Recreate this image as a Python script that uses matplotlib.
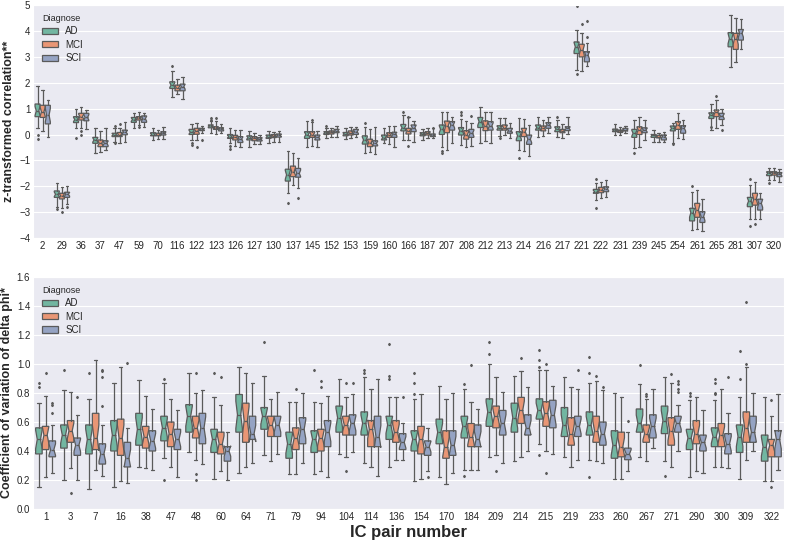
import numpy as np
import matplotlib.pyplot as plt
import seaborn as sns
from matplotlib.patches import Patch

groups = ["AD", "MCI", "SCI"]
group_n = [19, 19, 19]  # approx. subjects per group (sets notch width)

# ---- upper panel: z-transformed correlation ----
top_pairs = [2, 29, 36, 37, 47, 59, 70, 116, 122, 123, 126, 127, 130, 137, 145, 152,
             153, 159, 160, 166, 187, 207, 208, 212, 213, 214, 216, 217, 221, 222, 231,
             239, 245, 254, 261, 265, 281, 307, 320]

# each row: whisker low, q1, median, q3, whisker high
top_ad = [
    [0.24, 0.69, 0.91, 1.18, 1.89], [-2.79, -2.43, -2.31, -2.18, -1.89], [0.24, 0.46, 0.58, 0.69, 0.97],
    [-0.73, -0.34, -0.21, -0.11, 0.24], [-0.27, -0.08, 0.0, 0.05, 0.24], [0.24, 0.47, 0.58, 0.66, 0.82],
    [-0.21, -0.05, 0.0, 0.07, 0.24], [1.46, 1.78, 1.91, 2.04, 2.45], [-0.21, 0.0, 0.09, 0.2, 0.4],
    [0.05, 0.26, 0.33, 0.37, 0.53], [-0.34, -0.15, -0.08, 0.0, 0.27], [-0.47, -0.21, -0.12, -0.05, 0.15],
    [-0.34, -0.15, -0.08, -0.02, 0.15], [-2.25, -1.8, -1.56, -1.34, -0.62], [-0.47, -0.15, 0.0, 0.11, 0.52],
    [-0.15, 0.0, 0.07, 0.11, 0.24], [-0.18, -0.05, 0.02, 0.08, 0.27], [-0.73, -0.37, -0.21, -0.05, 0.3],
    [-0.34, -0.21, -0.12, -0.02, 0.27], [-0.21, 0.14, 0.26, 0.39, 0.75], [-0.21, -0.05, 0.02, 0.07, 0.2],
    [-0.47, 0.0, 0.2, 0.37, 0.86], [-0.4, -0.02, 0.14, 0.27, 0.6], [-0.31, 0.27, 0.5, 0.66, 1.05],
    [-0.05, 0.17, 0.26, 0.34, 0.62], [-0.6, -0.24, -0.05, 0.11, 0.62], [-0.11, 0.17, 0.27, 0.37, 0.66],
    [-0.08, 0.11, 0.21, 0.3, 0.58], [2.49, 3.13, 3.39, 3.58, 4.03], [-2.53, -2.27, -2.21, -2.12, -1.86],
    [-0.02, 0.11, 0.17, 0.21, 0.39], [-0.53, -0.11, 0.05, 0.2, 0.56], [-0.27, -0.11, -0.03, 0.0, 0.17],
    [-0.31, 0.14, 0.24, 0.33, 0.46], [-3.69, -3.34, -3.02, -2.85, -2.21], [0.17, 0.62, 0.75, 0.84, 1.18],
    [2.62, 3.39, 3.71, 3.94, 4.61], [-3.28, -2.79, -2.57, -2.43, -1.95], [-1.76, -1.59, -1.5, -1.44, -1.28],
]
top_mci = [
    [0.14, 0.66, 0.88, 1.13, 1.72], [-2.85, -2.49, -2.37, -2.27, -2.04], [0.24, 0.56, 0.69, 0.82, 1.05],
    [-0.69, -0.47, -0.34, -0.21, 0.14], [-0.34, -0.08, 0.0, 0.08, 0.24], [0.37, 0.56, 0.64, 0.69, 0.86],
    [-0.18, -0.05, 0.0, 0.05, 0.17], [1.55, 1.69, 1.81, 1.91, 2.16], [-0.21, 0.01, 0.14, 0.24, 0.43],
    [0.02, 0.2, 0.26, 0.3, 0.52], [-0.43, -0.21, -0.11, -0.03, 0.17], [-0.38, -0.24, -0.15, -0.08, 0.05],
    [-0.27, -0.12, -0.05, 0.0, 0.11], [-1.95, -1.63, -1.43, -1.22, -0.73], [-0.43, -0.11, 0.0, 0.11, 0.5],
    [-0.11, 0.02, 0.08, 0.14, 0.27], [-0.15, -0.02, 0.05, 0.14, 0.3], [-0.66, -0.47, -0.31, -0.18, 0.2],
    [-0.37, -0.11, -0.02, 0.07, 0.33], [-0.21, 0.02, 0.14, 0.24, 0.69], [-0.15, -0.02, 0.05, 0.11, 0.27],
    [-0.6, 0.07, 0.33, 0.52, 0.86], [-0.47, -0.18, 0.0, 0.15, 0.52], [-0.24, 0.15, 0.33, 0.53, 0.86],
    [-0.02, 0.17, 0.27, 0.37, 0.65], [-0.62, -0.08, 0.11, 0.24, 0.6], [-0.05, 0.14, 0.24, 0.33, 0.58],
    [-0.15, 0.07, 0.14, 0.2, 0.4], [2.45, 3.0, 3.26, 3.49, 3.94], [-2.46, -2.25, -2.14, -2.04, -1.82],
    [-0.02, 0.08, 0.14, 0.17, 0.3], [-0.47, 0.0, 0.17, 0.3, 0.66], [-0.27, -0.13, -0.08, -0.03, 0.05],
    [-0.15, 0.2, 0.37, 0.5, 0.82], [-3.66, -3.2, -2.92, -2.66, -2.14], [0.24, 0.69, 0.86, 0.95, 1.33],
    [2.79, 3.29, 3.71, 3.91, 4.49], [-3.28, -2.73, -2.5, -2.27, -1.82], [-1.76, -1.57, -1.49, -1.44, -1.28],
]
top_sci = [
    [-0.08, 0.41, 0.75, 1.13, 1.33], [-2.68, -2.43, -2.31, -2.23, -1.99], [0.2, 0.53, 0.66, 0.82, 0.95],
    [-0.6, -0.47, -0.34, -0.24, 0.24], [-0.27, -0.01, 0.09, 0.17, 0.5], [0.3, 0.47, 0.61, 0.72, 0.82],
    [-0.18, -0.02, 0.05, 0.11, 0.3], [1.36, 1.69, 1.85, 1.95, 2.21], [0.05, 0.15, 0.2, 0.24, 0.33],
    [0.05, 0.14, 0.22, 0.26, 0.4], [-0.47, -0.31, -0.18, -0.08, 0.17], [-0.38, -0.25, -0.18, -0.12, -0.02],
    [-0.27, -0.1, -0.03, 0.02, 0.15], [-2.05, -1.65, -1.5, -1.31, -0.9], [-0.47, -0.21, -0.11, -0.02, 0.15],
    [-0.08, 0.07, 0.15, 0.2, 0.34], [-0.11, 0.0, 0.11, 0.2, 0.3], [-0.75, -0.44, -0.34, -0.24, 0.3],
    [-0.47, -0.11, 0.02, 0.09, 0.33], [-0.27, 0.11, 0.26, 0.37, 0.52], [-0.15, -0.08, -0.02, 0.02, 0.24],
    [-0.31, 0.17, 0.37, 0.5, 0.69], [-0.43, -0.11, 0.05, 0.2, 0.46], [-0.31, 0.17, 0.33, 0.5, 0.86],
    [-0.12, 0.05, 0.15, 0.24, 0.46], [-0.83, -0.38, -0.18, -0.02, 0.37], [0.07, 0.24, 0.37, 0.46, 0.69],
    [0.02, 0.15, 0.24, 0.3, 0.66], [2.64, 2.81, 3.07, 3.2, 3.55], [-2.43, -2.21, -2.1, -2.02, -1.76],
    [0.05, 0.14, 0.17, 0.24, 0.33], [-0.21, 0.07, 0.17, 0.26, 0.58], [-0.27, -0.21, -0.08, -0.02, 0.11],
    [-0.18, 0.05, 0.24, 0.34, 0.56], [-3.72, -3.4, -3.17, -2.98, -2.5], [0.37, 0.58, 0.71, 0.82, 0.97],
    [3.29, 3.65, 3.91, 4.06, 4.46], [-3.28, -2.92, -2.66, -2.5, -2.25], [-1.82, -1.63, -1.54, -1.47, -1.34],
]
top_fliers = {
    "AD": {2: [-0.02, -0.17], 29: [-2.89], 36: [-0.12], 47: [0.33, -0.34], 116: [2.64], 122: [-0.31, -0.4],
           123: [0.62, 0.58], 126: [-0.44, -0.56], 137: [-2.63], 152: [0.33], 159: [0.46], 166: [0.88],
           207: [-0.62, -0.73], 208: [0.86, 0.75], 213: [-0.13], 214: [-0.9], 217: [0.66],
           221: [4.96, 2.34], 222: [-1.73, -2.85], 239: [-0.73], 254: [-0.35], 261: [-1.98],
           265: [0.3], 307: [-1.73, -3.52], 320: [-1.89]},
    "MCI": {29: [-2.98], 36: [0.14, 0.0], 47: [0.4], 59: [0.3], 122: [-0.47], 123: [0.62], 145: [0.58],
            166: [-0.43, 0.66], 221: [4.27], 265: [1.5], 307: [-3.47]},
    "SCI": {29: [-2.79], 122: [-0.21], 137: [-2.44], 187: [0.27], 208: [0.72], 221: [4.38, 3.78],
            265: [0.17]},
}

# ---- lower panel: coefficient of variation of delta phi ----
bot_pairs = [1, 3, 7, 16, 38, 47, 48, 60, 64, 71, 79, 94, 104, 114, 136, 154, 170, 184,
             209, 214, 215, 219, 233, 260, 267, 271, 290, 300, 309, 322]
bot_ad = [
    [0.15, 0.38, 0.48, 0.56, 0.73], [0.2, 0.42, 0.51, 0.58, 0.82], [0.14, 0.38, 0.48, 0.58, 0.76],
    [0.15, 0.4, 0.51, 0.61, 0.87], [0.29, 0.44, 0.55, 0.66, 0.89], [0.35, 0.47, 0.56, 0.64, 0.87],
    [0.39, 0.53, 0.64, 0.72, 0.94], [0.21, 0.39, 0.48, 0.55, 0.77], [0.25, 0.53, 0.65, 0.79, 0.98],
    [0.37, 0.55, 0.64, 0.7, 0.92], [0.24, 0.35, 0.45, 0.53, 0.74], [0.24, 0.39, 0.48, 0.54, 0.74],
    [0.38, 0.53, 0.63, 0.71, 0.9], [0.32, 0.51, 0.59, 0.67, 0.91], [0.29, 0.48, 0.58, 0.64, 0.77],
    [0.19, 0.4, 0.48, 0.54, 0.76], [0.22, 0.45, 0.53, 0.62, 0.85], [0.27, 0.49, 0.57, 0.64, 0.83],
    [0.36, 0.57, 0.67, 0.76, 1.0], [0.33, 0.53, 0.63, 0.73, 0.92], [0.45, 0.62, 0.68, 0.76, 0.96],
    [0.36, 0.5, 0.58, 0.7, 0.91], [0.34, 0.51, 0.58, 0.67, 0.87], [0.21, 0.35, 0.44, 0.54, 0.8],
    [0.36, 0.53, 0.59, 0.69, 0.86], [0.33, 0.52, 0.61, 0.71, 0.91], [0.22, 0.41, 0.49, 0.55, 0.75],
    [0.29, 0.43, 0.5, 0.56, 0.75], [0.21, 0.39, 0.5, 0.58, 0.77], [0.19, 0.33, 0.43, 0.51, 0.77],
]
bot_mci = [
    [0.22, 0.41, 0.51, 0.57, 0.78], [0.28, 0.46, 0.54, 0.61, 0.81], [0.27, 0.41, 0.49, 0.66, 1.03],
    [0.19, 0.37, 0.49, 0.62, 0.98], [0.28, 0.42, 0.5, 0.57, 0.78], [0.29, 0.43, 0.52, 0.6, 0.76],
    [0.34, 0.49, 0.56, 0.64, 0.8], [0.26, 0.38, 0.45, 0.53, 0.72], [0.29, 0.46, 0.61, 0.73, 0.94],
    [0.33, 0.5, 0.58, 0.64, 0.76], [0.24, 0.41, 0.49, 0.56, 0.74], [0.26, 0.4, 0.49, 0.55, 0.73],
    [0.36, 0.51, 0.58, 0.64, 0.77], [0.29, 0.43, 0.55, 0.61, 0.83], [0.34, 0.46, 0.53, 0.61, 0.77],
    [0.21, 0.38, 0.48, 0.57, 0.79], [0.17, 0.35, 0.43, 0.54, 0.76], [0.27, 0.43, 0.5, 0.59, 0.74],
    [0.37, 0.56, 0.64, 0.71, 0.91], [0.36, 0.59, 0.68, 0.77, 0.95], [0.4, 0.57, 0.66, 0.74, 0.96],
    [0.29, 0.44, 0.52, 0.63, 0.84], [0.33, 0.46, 0.54, 0.64, 0.88], [0.21, 0.36, 0.43, 0.53, 0.77],
    [0.33, 0.46, 0.52, 0.58, 0.76], [0.29, 0.44, 0.54, 0.63, 0.87], [0.26, 0.45, 0.52, 0.61, 0.77],
    [0.29, 0.43, 0.51, 0.59, 0.83], [0.34, 0.46, 0.56, 0.67, 0.98], [0.19, 0.36, 0.44, 0.48, 0.64],
]
bot_sci = [
    [0.25, 0.36, 0.41, 0.47, 0.58], [0.2, 0.37, 0.44, 0.49, 0.65], [0.23, 0.31, 0.38, 0.45, 0.58],
    [0.18, 0.29, 0.35, 0.46, 0.56], [0.27, 0.4, 0.47, 0.54, 0.69], [0.22, 0.41, 0.48, 0.55, 0.68],
    [0.31, 0.45, 0.56, 0.66, 0.82], [0.2, 0.33, 0.4, 0.43, 0.53], [0.32, 0.48, 0.52, 0.64, 0.87],
    [0.38, 0.5, 0.58, 0.64, 0.81], [0.32, 0.45, 0.55, 0.63, 0.8], [0.22, 0.43, 0.53, 0.61, 0.78],
    [0.39, 0.51, 0.59, 0.65, 0.79], [0.23, 0.43, 0.5, 0.64, 0.9], [0.34, 0.41, 0.46, 0.52, 0.59],
    [0.26, 0.37, 0.43, 0.47, 0.56], [0.25, 0.37, 0.44, 0.54, 0.8], [0.27, 0.43, 0.48, 0.58, 0.69],
    [0.32, 0.51, 0.59, 0.68, 0.81], [0.4, 0.51, 0.56, 0.65, 0.84], [0.38, 0.56, 0.65, 0.75, 0.85],
    [0.34, 0.5, 0.57, 0.64, 0.83], [0.32, 0.44, 0.52, 0.6, 0.82], [0.26, 0.34, 0.38, 0.42, 0.53],
    [0.42, 0.49, 0.57, 0.65, 0.83], [0.4, 0.53, 0.59, 0.64, 0.72], [0.25, 0.4, 0.46, 0.51, 0.68],
    [0.28, 0.38, 0.45, 0.52, 0.66], [0.4, 0.46, 0.53, 0.64, 0.8], [0.27, 0.36, 0.48, 0.54, 0.79],
]
bot_fliers = {
    "AD": {1: [0.87, 0.84], 3: [0.96], 7: [0.94], 47: [0.9, 0.2], 60: [0.94], 71: [1.15], 94: [0.96],
           114: [0.96, 0.94], 136: [1.14, 0.92, 0.9], 154: [0.94, 0.87, 0.79], 184: [0.86, 0.23],
           209: [1.15, 1.07], 215: [1.1, 1.03, 0.98, 0.37], 233: [1.05, 0.94, 0.22], 267: [0.99],
           271: [0.23], 290: [0.8, 0.78], 300: [0.9, 0.87, 0.8, 0.79], 309: [1.09, 0.9]},
    "MCI": {1: [0.94], 3: [0.11], 48: [0.94, 0.24, 0.2], 60: [0.91], 79: [0.83], 94: [0.88, 0.84],
            104: [0.87, 0.26], 184: [0.99], 209: [0.26], 214: [1.04], 215: [1.0, 0.25], 233: [0.92],
            267: [0.79, 0.78], 271: [0.93], 309: [1.43, 1.0], 322: [0.75, 0.15]},
    "SCI": {1: [0.73, 0.72, 0.66], 3: [0.77], 7: [0.96, 0.95, 0.91, 0.71], 16: [1.01], 104: [0.87],
            136: [0.77], 154: [0.22], 219: [0.96], 233: [0.84], 260: [0.61],
            271: [0.88, 0.86, 0.83, 0.81], 300: [0.91]},
}

sns.set_style("darkgrid")
plt.rcParams["font.family"] = ["Liberation Sans", "DejaVu Sans"]

colors = [sns.desaturate(c, 0.75) for c in sns.color_palette("Set2", 3)]
gray = "#5a5a5a"


def draw_panel(ax, pairs, stats, fliers, ylim, yticks, ylabel):
    w = 0.8 / 3
    for gi, g in enumerate(groups):
        boxes = []
        for ci, p in enumerate(pairs):
            lo, q1, med, q3, hi = stats[g][ci]
            half = 1.57 * (q3 - q1) / np.sqrt(group_n[gi])
            boxes.append(dict(med=med, q1=q1, q3=q3, whislo=lo, whishi=hi,
                              cilo=med - half, cihi=med + half,
                              fliers=fliers[g].get(p, [])))
        pos = np.arange(len(pairs)) + (gi - 1) * w
        ax.bxp(boxes, positions=pos, widths=w * 0.98, shownotches=True,
               patch_artist=True, manage_ticks=False,
               boxprops=dict(facecolor=colors[gi], edgecolor=gray, linewidth=0.9),
               whiskerprops=dict(color=gray, linewidth=0.9),
               capprops=dict(color=gray, linewidth=0.9),
               medianprops=dict(color=gray, linewidth=0.9),
               flierprops=dict(marker="d", markersize=1.2, markerfacecolor=gray,
                               markeredgecolor=gray, linestyle="none"))
    ax.set_xlim(-0.5, len(pairs) - 0.5)
    ax.set_xticks(np.arange(len(pairs)))
    ax.set_xticklabels([str(p) for p in pairs])
    ax.set_ylim(*ylim)
    ax.set_yticks(yticks)
    ax.xaxis.grid(False)
    ax.tick_params(labelsize=7, length=0, pad=2, colors="#262626")
    ax.set_ylabel(ylabel, fontsize=9, fontweight="bold", labelpad=3)
    handles = [Patch(facecolor=colors[i], edgecolor=gray, linewidth=0.9, label=g)
               for i, g in enumerate(groups)]
    leg = ax.legend(handles=handles, title="Diagnose", loc="upper left", frameon=False,
                    fontsize=7, title_fontsize=6.5, handlelength=1.7, handleheight=0.6,
                    labelspacing=0.35, handletextpad=0.7)
    leg._legend_box.align = "left"


fig = plt.figure(figsize=(7.87, 5.44), dpi=100)
ax1 = fig.add_axes([0.042, 0.5625, 0.954, 0.428])
ax2 = fig.add_axes([0.042, 0.0643, 0.954, 0.4265])

draw_panel(ax1, top_pairs, {"AD": top_ad, "MCI": top_mci, "SCI": top_sci}, top_fliers,
           (-4, 5), np.arange(-4, 6, 1), "z-transformed correlation**")
draw_panel(ax2, bot_pairs, {"AD": bot_ad, "MCI": bot_mci, "SCI": bot_sci}, bot_fliers,
           (0, 1.6), np.arange(0, 1.61, 0.2), "Coefficient of variation of delta phi*")
ax2.set_yticklabels(["%.1f" % v for v in np.arange(0, 1.61, 0.2)])
ax2.set_xlabel("IC pair number", fontsize=12, fontweight="bold", labelpad=2)

fig.savefig("out.png", dpi=100)
